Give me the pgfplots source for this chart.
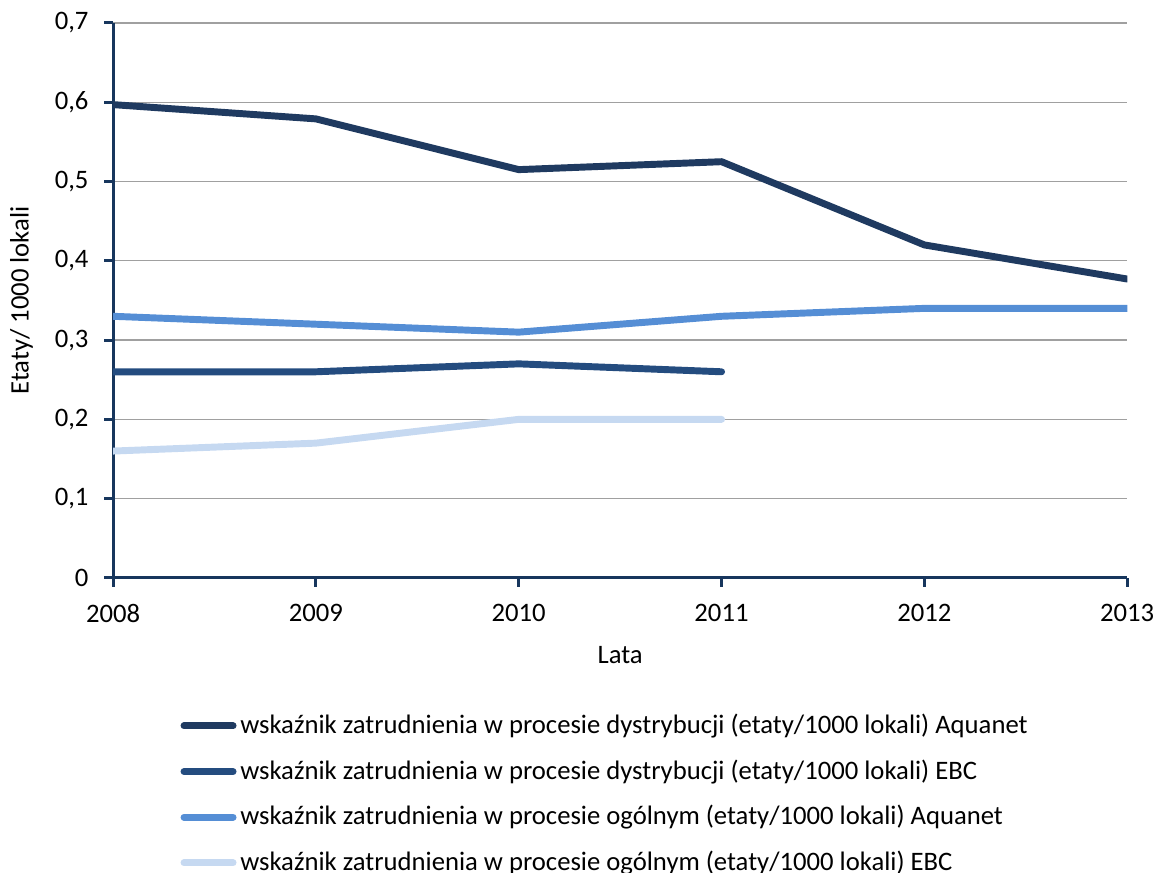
\documentclass[border=0pt]{standalone}
\usepackage{pgfplots}
\pgfplotsset{compat=1.18}
\usepackage{fontspec}
\setmainfont{Carlito}

\definecolor{navyA}{HTML}{1F3A60}
\definecolor{navyB}{HTML}{244C7F}
\definecolor{midblue}{HTML}{558ED5}
\definecolor{paleblue}{HTML}{C6D9F1}
\definecolor{axisnavy}{HTML}{17365D}
\definecolor{gridgray}{HTML}{A0A0A0}

\begin{document}
\begin{tikzpicture}[font=\fontsize{10pt}{12pt}\selectfont]
\path[use as bounding box] (0,0) rectangle (433.1pt,327pt);
\begin{axis}[
  at={(42.4pt,110.3pt)}, anchor=south west,
  scale only axis, width=380.3pt, height=208.1pt,
  xmin=2008, xmax=2013, ymin=0, ymax=0.7,
  xtick={2008,...,2013},
  xticklabel style={/pgf/number format/1000 sep={}, yshift=-3.2pt},
  ytick={0,0.1,...,0.7},
  yticklabel style={/pgf/number format/.cd, fixed, use comma, precision=1, /tikz/.cd, xshift=-2.4pt},
  /pgf/number format/assume math mode=true,
  axis x line=bottom, axis y line=left,
  axis line style={-, draw=axisnavy, line width=1.1pt},
  tick style={draw=axisnavy, line width=1.1pt},
  tick align=outside, major tick length=3.3pt,
  ymajorgrids, grid style={draw=gridgray, line width=0.5pt},
  xlabel={Lata}, ylabel={Etaty/ 1000 lokali},
  xlabel style={at={(axis description cs:0.5,0)}, anchor=north, yshift=-22pt},
  ylabel style={at={(axis description cs:0,0.5)}, anchor=south, yshift=26.5pt},
  every axis plot/.append style={line width=2.6pt, line cap=round, line join=round},
  legend style={at={(axis description cs:0.066,-0.235)}, anchor=north west,
    draw=none, fill=none, inner sep=0pt, row sep=4.3pt,
    nodes={inner xsep=1.4pt},
    cells={anchor=west}, font=\fontsize{10pt}{12pt}\selectfont},
  legend image code/.code={\draw[#1] (1.2pt,0pt) -- (19.6pt,0pt);},
  legend cell align=left,
]
\addplot[navyA] coordinates {(2008,0.597) (2009,0.579) (2010,0.515) (2011,0.525) (2012,0.420) (2013,0.377)};
\addlegendentry{wskaźnik zatrudnienia w procesie dystrybucji (etaty/1000 lokali) Aquanet}
\addplot[navyB] coordinates {(2008,0.26) (2009,0.26) (2010,0.27) (2011,0.26)};
\addlegendentry{wskaźnik zatrudnienia w procesie dystrybucji (etaty/1000 lokali) EBC}
\addplot[midblue] coordinates {(2008,0.33) (2009,0.32) (2010,0.31) (2011,0.33) (2012,0.34) (2013,0.34)};
\addlegendentry{wskaźnik zatrudnienia w procesie ogólnym (etaty/1000 lokali) Aquanet}
\addplot[paleblue] coordinates {(2008,0.16) (2009,0.17) (2010,0.20) (2011,0.20)};
\addlegendentry{wskaźnik zatrudnienia w procesie ogólnym (etaty/1000 lokali) EBC}
\end{axis}
\end{tikzpicture}
\end{document}
